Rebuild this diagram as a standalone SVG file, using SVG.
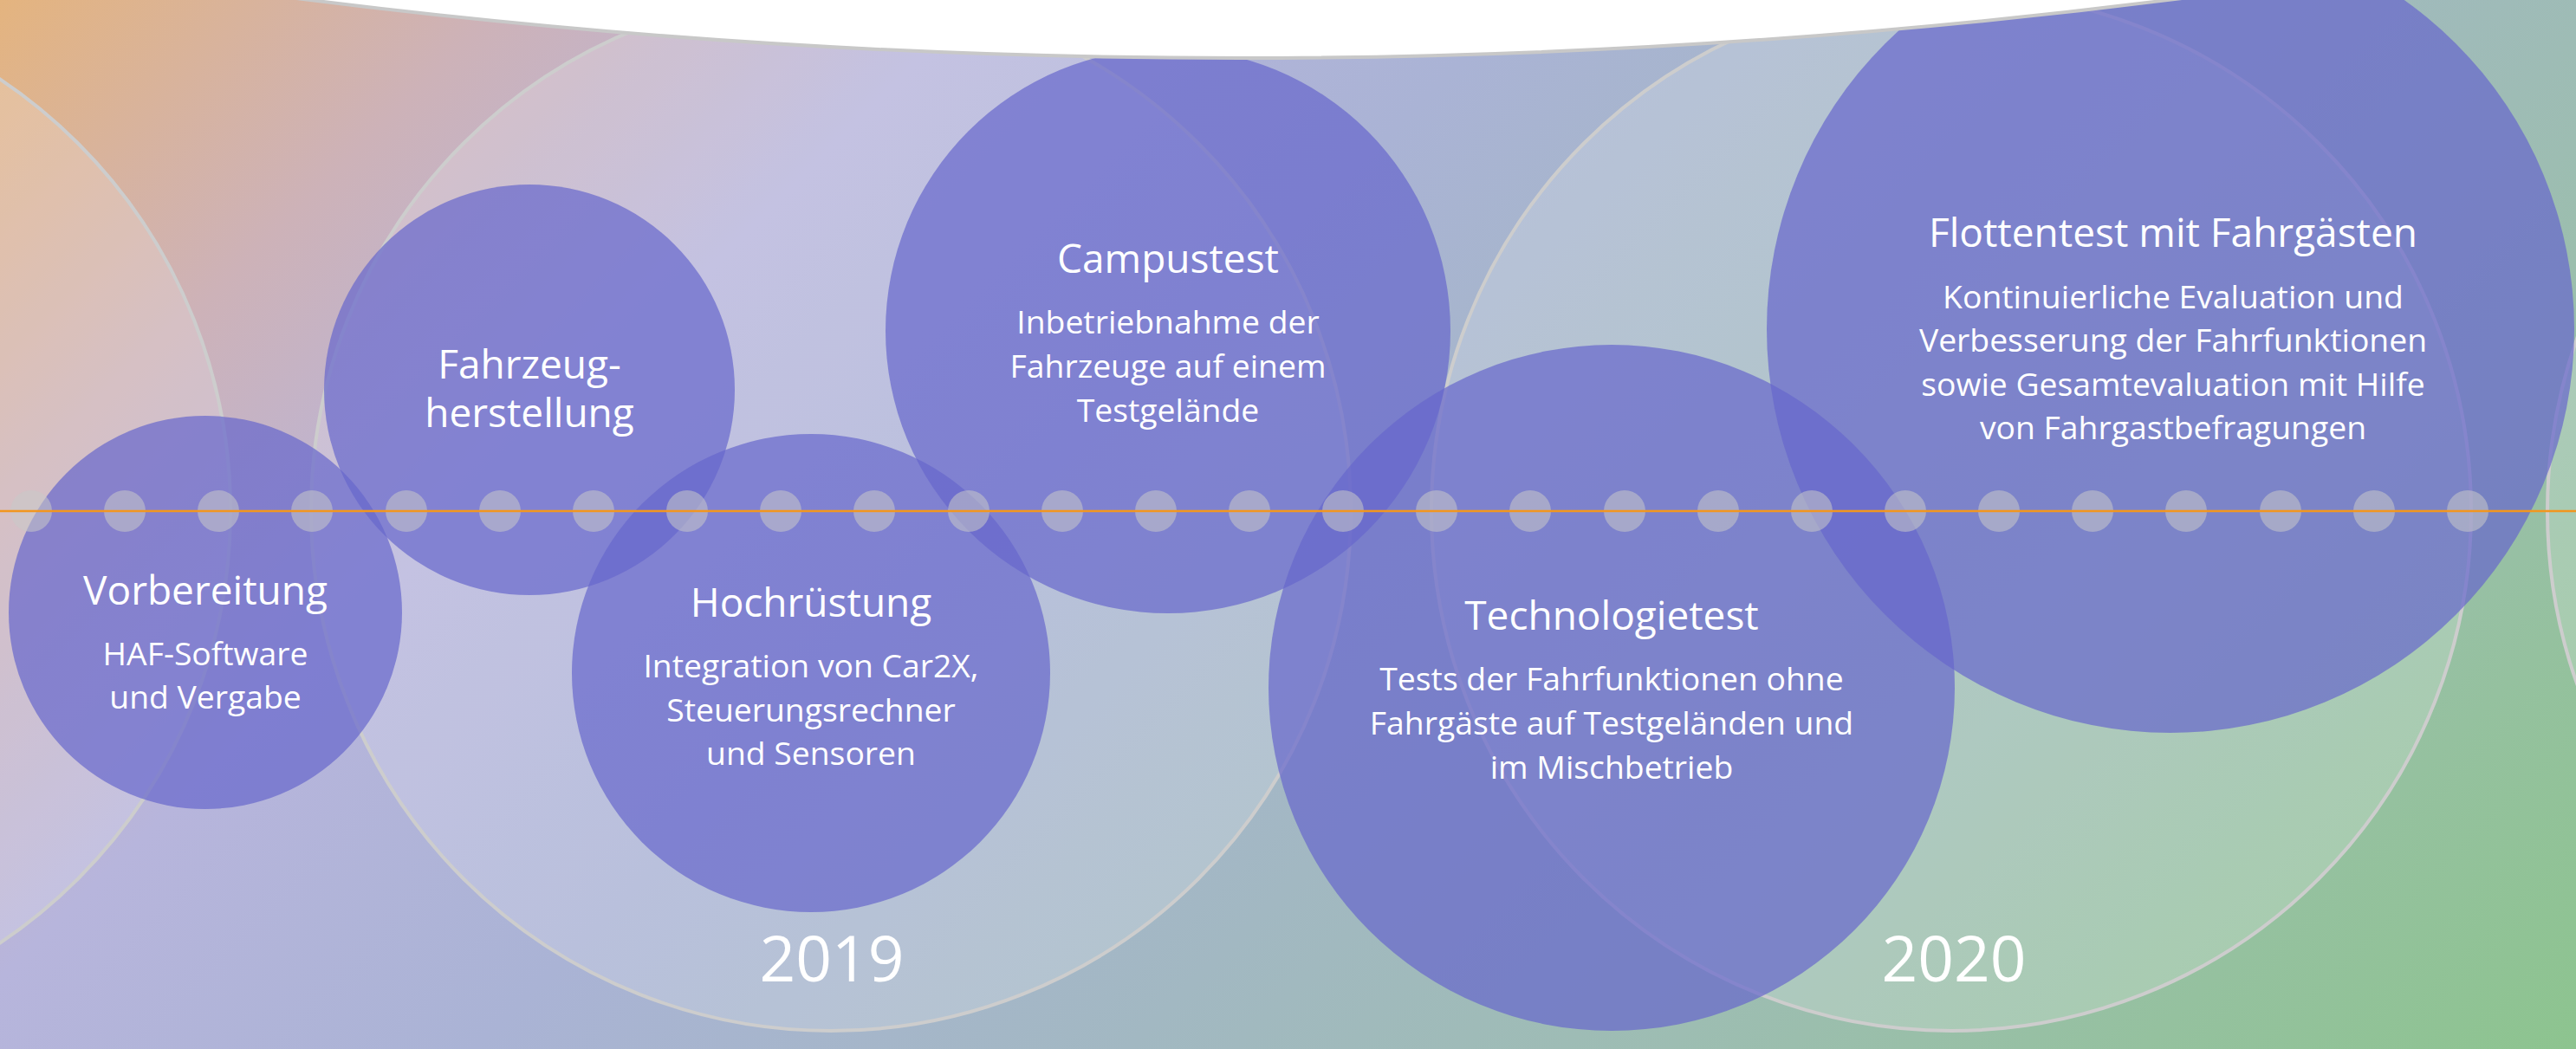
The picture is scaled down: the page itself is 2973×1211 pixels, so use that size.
<svg xmlns="http://www.w3.org/2000/svg" width="2973" height="1211" viewBox="0 0 2973 1211">
  <defs>
    <linearGradient id="bg" gradientUnits="userSpaceOnUse" x1="0" y1="0" x2="2092" y2="2092">
      <stop offset="0" stop-color="#e4b47f"/>
      <stop offset="0.14" stop-color="#cdb2b8"/>
      <stop offset="0.27" stop-color="#b7b5dc"/>
      <stop offset="0.42" stop-color="#aab3d5"/>
      <stop offset="0.6" stop-color="#a2b8c2"/>
      <stop offset="0.75" stop-color="#9dbdb2"/>
      <stop offset="0.88" stop-color="#95c19f"/>
      <stop offset="1" stop-color="#8dc48f"/>
    </linearGradient>
    <style>
      .year { fill: #ffffff; fill-opacity: 0.18; stroke: #cdcdcd; stroke-width: 4; }
      .phase { fill: #6767cc; fill-opacity: 0.7; }
      .dot { fill: #c8c8c8; fill-opacity: 0.55; }
      .axis { stroke: #f2961f; stroke-width: 2.5; }
      .cap { stroke: #c8c8c8; stroke-width: 4; fill: #ffffff; }
      text { font-family: "Open Sans", "Liberation Sans", sans-serif; fill: #ffffff; text-anchor: middle; }
      .title { font-size: 46px; }
      .body { font-size: 37.3px; }
      .yr { font-size: 73px; }
    </style>
  </defs>

  <!-- background -->
  <rect x="0" y="0" width="2973" height="1211" fill="url(#bg)"/>

  <!-- year rings -->
  <g id="years">
    <circle class="year" cx="-334" cy="590" r="600"/>
    <g id="year-2019">
      <circle class="year" cx="959" cy="590" r="600"/>
      <text class="yr" x="960" y="1133">2019</text>
    </g>
    <g id="year-2020">
      <circle class="year" cx="2252" cy="590" r="600"/>
      <text class="yr" x="2255" y="1133">2020</text>
    </g>
    <circle class="year" cx="3540" cy="590" r="600"/>
  </g>

  <!-- phases -->
  <g id="vorbereitung">
    <circle class="phase" cx="237" cy="707" r="227"/>
    <text class="title" x="237" y="698">Vorbereitung</text>
    <text class="body" x="237" y="768">HAF-Software</text>
    <text class="body" x="237" y="818">und Vergabe</text>
  </g>
  <g id="fahrzeugherstellung">
    <circle class="phase" cx="611" cy="450" r="237"/>
    <text class="title" x="611" y="437">Fahrzeug-</text>
    <text class="title" x="611" y="493">herstellung</text>
  </g>
  <g id="hochruestung">
    <circle class="phase" cx="936" cy="777" r="276"/>
    <text class="title" x="936" y="712">Hochrüstung</text>
    <text class="body" x="936" y="782">Integration von Car2X,</text>
    <text class="body" x="936" y="833">Steuerungsrechner</text>
    <text class="body" x="936" y="883">und Sensoren</text>
  </g>
  <g id="campustest">
    <circle class="phase" cx="1348" cy="382" r="326"/>
    <text class="title" x="1348" y="315">Campustest</text>
    <text class="body" x="1348" y="385">Inbetriebnahme der</text>
    <text class="body" x="1348" y="436">Fahrzeuge auf einem</text>
    <text class="body" x="1348" y="487">Testgelände</text>
  </g>
  <g id="technologietest">
    <circle class="phase" cx="1860" cy="794" r="396"/>
    <text class="title" x="1860" y="727">Technologietest</text>
    <text class="body" x="1860" y="797">Tests der Fahrfunktionen ohne</text>
    <text class="body" x="1860" y="848">Fahrgäste auf Testgeländen und</text>
    <text class="body" x="1860" y="899">im Mischbetrieb</text>
  </g>
  <g id="flottentest">
    <circle class="phase" cx="2505" cy="380" r="466"/>
    <text class="title" x="2508" y="285">Flottentest mit Fahrgästen</text>
    <text class="body" x="2508" y="356">Kontinuierliche Evaluation und</text>
    <text class="body" x="2508" y="406">Verbesserung der Fahrfunktionen</text>
    <text class="body" x="2508" y="457">sowie Gesamtevaluation mit Hilfe</text>
    <text class="body" x="2508" y="507">von Fahrgastbefragungen</text>
  </g>

  <!-- time axis: dots and line -->
  <g id="axis">
    <g id="ticks">
      <circle class="dot" cx="36" cy="590" r="24"/>
      <circle class="dot" cx="144" cy="590" r="24"/>
      <circle class="dot" cx="252" cy="590" r="24"/>
      <circle class="dot" cx="360" cy="590" r="24"/>
      <circle class="dot" cx="469" cy="590" r="24"/>
      <circle class="dot" cx="577" cy="590" r="24"/>
      <circle class="dot" cx="685" cy="590" r="24"/>
      <circle class="dot" cx="793" cy="590" r="24"/>
      <circle class="dot" cx="901" cy="590" r="24"/>
      <circle class="dot" cx="1009" cy="590" r="24"/>
      <circle class="dot" cx="1118" cy="590" r="24"/>
      <circle class="dot" cx="1226" cy="590" r="24"/>
      <circle class="dot" cx="1334" cy="590" r="24"/>
      <circle class="dot" cx="1442" cy="590" r="24"/>
      <circle class="dot" cx="1550" cy="590" r="24"/>
      <circle class="dot" cx="1658" cy="590" r="24"/>
      <circle class="dot" cx="1766" cy="590" r="24"/>
      <circle class="dot" cx="1875" cy="590" r="24"/>
      <circle class="dot" cx="1983" cy="590" r="24"/>
      <circle class="dot" cx="2091" cy="590" r="24"/>
      <circle class="dot" cx="2199" cy="590" r="24"/>
      <circle class="dot" cx="2307" cy="590" r="24"/>
      <circle class="dot" cx="2415" cy="590" r="24"/>
      <circle class="dot" cx="2523" cy="590" r="24"/>
      <circle class="dot" cx="2632" cy="590" r="24"/>
      <circle class="dot" cx="2740" cy="590" r="24"/>
      <circle class="dot" cx="2848" cy="590" r="24"/>
    </g>
    <line class="axis" x1="0" y1="590" x2="2973" y2="590"/>
  </g>

  <!-- white cap along the top edge -->
  <circle class="cap" cx="1430" cy="-8543" r="8610"/>
</svg>
